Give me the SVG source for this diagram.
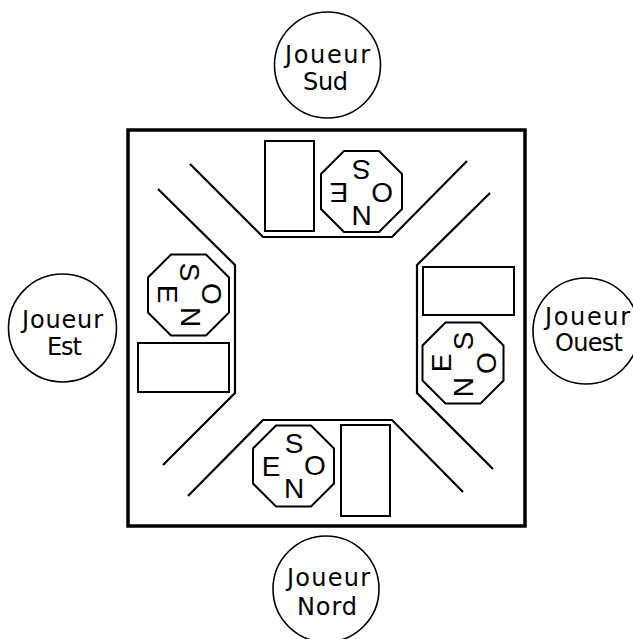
<svg xmlns="http://www.w3.org/2000/svg" width="633" height="639" viewBox="0 0 633 639">
<style>
.bg{fill:#ffffff}
.table{fill:none;stroke:#000;stroke-width:3.5}
.wing{fill:none;stroke:#000;stroke-width:2.2;stroke-linejoin:miter}
.card{fill:#fff;stroke:#000;stroke-width:2}
.oct{fill:#fff;stroke:#000;stroke-width:2}
.seat{fill:#fff;stroke:#000;stroke-width:1.6}
.lbl{font-family:"DejaVu Sans","Liberation Sans",sans-serif;font-size:24px;fill:#000;text-anchor:middle}
.cmp{font-family:"Liberation Sans Narrow","Liberation Sans",Arial,sans-serif;font-size:28px;fill:#000;text-anchor:middle;dominant-baseline:central}
</style>
<defs>
<path id="octagon" d="M-17.5,-40.5 L17.5,-40.5 L40.5,-17.5 L40.5,17.5 L17.5,40.5 L-17.5,40.5 L-40.5,17.5 L-40.5,-17.5 Z"/>
</defs>
<rect class="bg" x="0" y="0" width="633" height="639"/>

<g id="table">
<rect class="table" x="128" y="130" width="397" height="396"/>
</g>

<g id="connectors">
<polyline class="wing" points="190,164 263,237 392,237 467,161"/>
<polyline class="wing" points="188,496 263,420 392,420 463,492"/>
<polyline class="wing" points="158,189 235,265 235,393 163,465"/>
<polyline class="wing" points="490,193 417,265 417,393 493,469"/>
</g>

<g id="cards">
<rect class="card" x="265" y="141" width="49" height="90"/>
<rect class="card" x="341" y="425" width="49" height="91"/>
<rect class="card" x="138" y="343" width="91" height="49"/>
<rect class="card" x="423" y="267" width="91" height="48"/>
</g>

<g id="compass-sud">
<use href="#octagon" class="oct" x="361.5" y="191.5"/>
<text class="cmp" x="361.5" y="169" transform="rotate(180 361.5 169)">S</text>
<text class="cmp" x="339" y="192" transform="rotate(180 339 192)">E</text>
<text class="cmp" x="382" y="192" transform="rotate(180 382 192)">O</text>
<text class="cmp" x="361.5" y="215" transform="rotate(180 361.5 215)">N</text>
</g>

<g id="compass-nord">
<use href="#octagon" class="oct" x="293.5" y="466"/>
<text class="cmp" x="294" y="443">S</text>
<text class="cmp" x="271" y="466">E</text>
<text class="cmp" x="315" y="465">O</text>
<text class="cmp" x="294" y="488">N</text>
</g>

<g id="compass-est">
<use href="#octagon" class="oct" x="188.5" y="295"/>
<text class="cmp" x="189" y="272" transform="rotate(90 189 272)">S</text>
<text class="cmp" x="167" y="294" transform="rotate(90 167 294)">E</text>
<text class="cmp" x="211" y="294" transform="rotate(90 211 294)">O</text>
<text class="cmp" x="190" y="317" transform="rotate(90 190 317)">N</text>
</g>

<g id="compass-ouest">
<use href="#octagon" class="oct" x="463" y="363"/>
<text class="cmp" x="463" y="341" transform="rotate(-90 463 341)">S</text>
<text class="cmp" x="441" y="363" transform="rotate(-90 441 363)">E</text>
<text class="cmp" x="486" y="363" transform="rotate(-90 486 363)">O</text>
<text class="cmp" x="463" y="387" transform="rotate(-90 463 387)">N</text>
</g>

<g id="joueur-sud">
<circle class="seat" cx="327.5" cy="65" r="53"/>
<text class="lbl" x="327.5" y="63" textLength="85" lengthAdjust="spacing">Joueur</text>
<text class="lbl" x="325.5" y="90" textLength="45" lengthAdjust="spacing">Sud</text>
</g>

<g id="joueur-est">
<circle class="seat" cx="62.5" cy="328" r="54"/>
<text class="lbl" x="62.5" y="328" textLength="81" lengthAdjust="spacing">Joueur</text>
<text class="lbl" x="64.5" y="355" textLength="35" lengthAdjust="spacing">Est</text>
</g>

<g id="joueur-ouest">
<circle class="seat" cx="586" cy="331" r="53"/>
<text class="lbl" x="587.5" y="325" textLength="85" lengthAdjust="spacing">Joueur</text>
<text class="lbl" x="589" y="351" textLength="68" lengthAdjust="spacing">Ouest</text>
</g>

<g id="joueur-nord">
<circle class="seat" cx="326" cy="589" r="53"/>
<text class="lbl" x="328.5" y="586" textLength="83" lengthAdjust="spacing">Joueur</text>
<text class="lbl" x="327" y="615" textLength="60" lengthAdjust="spacing">Nord</text>
</g>
</svg>
